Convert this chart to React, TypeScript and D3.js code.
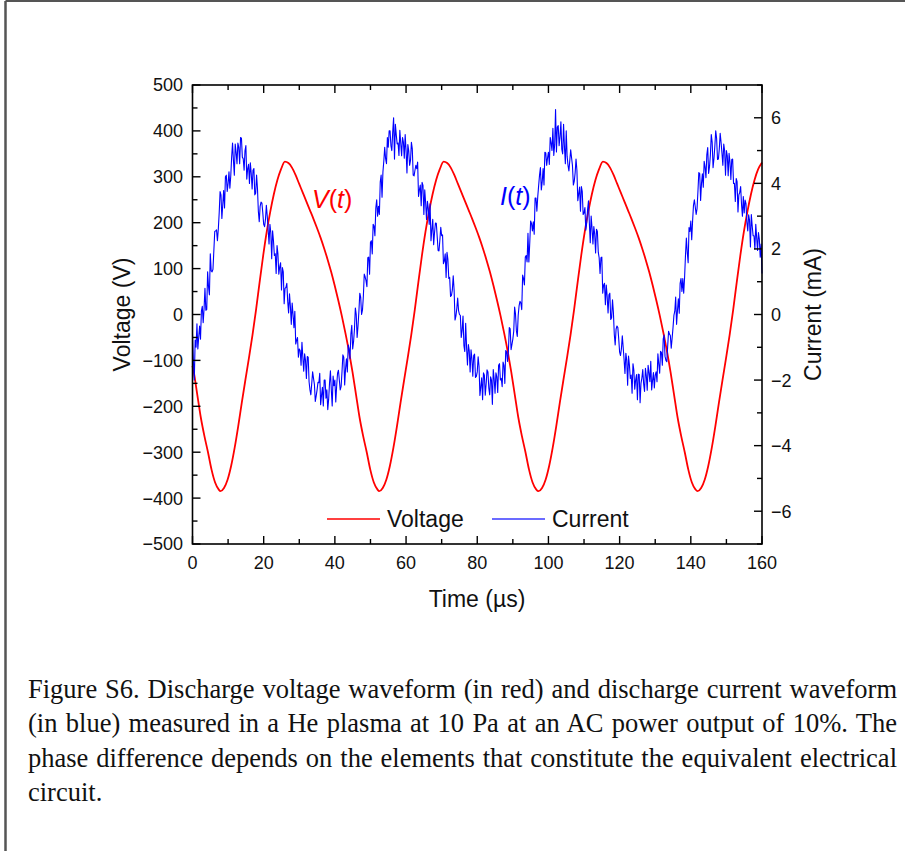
import React, { useLayoutEffect, useRef, useState } from 'react';
import * as d3 from 'd3';

// Voltage waveform V(t): [time (µs), voltage (V)]
const voltagePoints: [number, number][] = [
  [0, -112], [0.35, -125], [1.35, -175], [2.35, -225], [3.35, -265], [4.35, -300], [5.35, -338], [6.35, -366], [7.35, -381], [7.85, -385],
  [8.85, -378], [9.85, -360], [10.85, -330], [11.85, -290], [12.85, -243], [13.85, -192], [14.85, -143], [15.85, -95], [16.85, -45], [17.85, 10],
  [18.85, 70], [19.85, 128], [20.85, 180], [21.85, 224], [22.85, 262], [23.85, 293], [24.85, 316], [25.95, 333],
  [26.95, 330], [27.95, 320], [28.95, 304], [29.95, 285], [30.95, 266], [31.95, 247], [32.95, 228], [33.95, 209], [34.95, 189], [35.95, 168],
  [36.95, 145], [37.95, 120], [38.95, 93], [39.95, 63], [40.95, 31], [41.95, -3], [42.95, -40], [43.95, -80], [44.95, -125], [45.95, -175],
  [46.95, -225], [47.95, -265], [48.95, -300], [49.95, -338], [50.95, -366], [51.95, -381], [52.45, -385],
  [53.45, -378], [54.45, -360], [55.45, -330], [56.45, -290], [57.45, -243], [58.45, -192], [59.45, -143], [60.45, -95], [61.45, -45], [62.45, 10],
  [63.45, 70], [64.45, 128], [65.45, 180], [66.45, 224], [67.45, 262], [68.45, 293], [69.45, 316], [70.55, 333],
  [71.55, 330], [72.55, 320], [73.55, 304], [74.55, 285], [75.55, 266], [76.55, 247], [77.55, 228], [78.55, 209], [79.55, 189], [80.55, 168],
  [81.55, 145], [82.55, 120], [83.55, 93], [84.55, 63], [85.55, 31], [86.55, -3], [87.55, -40], [88.55, -80], [89.55, -125], [90.55, -175],
  [91.55, -225], [92.55, -265], [93.55, -300], [94.55, -338], [95.55, -366], [96.55, -381], [97.2, -385],
  [98.2, -378], [99.2, -360], [100.2, -330], [101.2, -290], [102.2, -243], [103.2, -192], [104.2, -143], [105.2, -95], [106.2, -45], [107.2, 10],
  [108.2, 70], [109.2, 128], [110.2, 180], [111.2, 224], [112.2, 262], [113.2, 293], [114.2, 316], [115.3, 333],
  [116.3, 330], [117.3, 320], [118.3, 304], [119.3, 285], [120.3, 266], [121.3, 247], [122.3, 228], [123.3, 209], [124.3, 189], [125.3, 168],
  [126.3, 145], [127.3, 120], [128.3, 93], [129.3, 63], [130.3, 31], [131.3, -3], [132.3, -40], [133.3, -80], [134.3, -125], [135.3, -175],
  [136.3, -225], [137.3, -265], [138.3, -300], [139.3, -338], [140.3, -366], [141.3, -381], [141.9, -385],
  [142.9, -378], [143.9, -360], [144.9, -330], [145.9, -290], [146.9, -243], [147.9, -192], [148.9, -143], [149.9, -95], [150.9, -45], [151.9, 10],
  [152.9, 70], [153.9, 128], [154.9, 180], [155.9, 224], [156.9, 262], [157.9, 293], [158.9, 316], [160, 331],
];

// Current waveform I(t) (mA): samples at t = 0, 0.5, 1.0, ... µs
const currentStep = 0.5;
const currentValues: number[] = [
  -0.6, -2.0, -1.0, -1.05, -0.35, 0.1, -0.25, 0.8, 0.15, 0.85,
  1.85, 1.3, 1.95, 2.55, 2.25, 3.1, 3.65, 3.35, 3.25, 4.25,
  4.0, 3.85, 4.8, 4.7, 5.2, 4.6, 5.1, 5.4, 4.8, 4.4,
  5.15, 4.45, 4.0, 4.3, 4.4, 3.65, 4.25, 3.15, 3.3, 3.4,
  2.75, 2.9, 3.0, 2.15, 2.5, 2.55, 1.8, 1.25, 1.85, 1.45,
  0.75, 1.3, 0.8, 0.95, 0.05, 0.25, 0.35, -0.4, -0.9, -0.7,
  -1.05, -1.55, -1.3, -1.2, -1.95, -1.3, -2.3, -2.1, -1.95, -2.65,
  -2.3, -2.08, -2.75, -2.22, -2.0, -2.55, -2.9, -2.08, -2.3, -1.88,
  -2.0, -2.18, -1.7, -2.3, -1.75, -1.3, -1.65, -1.75, -1.05, -0.6,
  -1.05, -0.45, 0.0, -0.35, 0.65, 0.0, 0.55, 1.15, 0.85, 1.75,
  2.2, 1.85, 2.7, 3.25, 3.0, 3.05, 4.25, 4.35, 5.1, 4.6,
  5.1, 5.6, 5.0, 6.0, 5.8, 5.2, 4.85, 5.23, 5.4, 4.77,
  5.0, 5.18, 4.55, 5.25, 4.25, 4.4, 4.45, 3.6, 3.95, 4.03,
  3.05, 3.4, 3.45, 2.75, 2.25, 2.9, 2.5, 2.78, 1.95, 2.27,
  2.4, 1.55, 1.85, 1.9, 1.1, 0.55, 0.75, 0.75, -0.05, 0.5,
  0.0, -0.7, -0.05, -1.13, -1.0, -0.92, -1.75, -1.35, -1.25, -1.92,
  -1.75, -1.58, -2.2, -2.6, -1.85, -2.12, -1.75, -2.45, -2.0, -1.68,
  -2.4, -1.9, -1.55, -2.0, -2.2, -1.55, -1.1, -1.43, -0.4, -1.07,
  -0.75, 0.23, -0.5, -0.03, 0.4, 0.15, 1.1, 1.75, 1.6, 1.6,
  2.85, 2.55, 2.45, 3.55, 3.6, 4.25, 3.8, 4.45, 4.95, 4.55,
  4.95, 5.4, 5.0, 4.85, 6.25, 5.72, 5.15, 5.88, 4.9, 5.1,
  5.6, 4.55, 4.7, 4.78, 3.95, 4.32, 4.4, 3.68, 3.15, 3.75,
  3.1, 2.57, 3.2, 2.78, 3.0, 2.15, 2.45, 2.6, 1.9, 1.25,
  1.75, 0.9, 0.3, 0.55, 0.6, -0.15, 0.45, -0.6, -0.45, -0.4,
  -1.15, -1.05, -1.0, -1.8, -1.4, -1.27, -1.95, -2.4, -1.7, -2.0,
  -2.6, -1.83, -2.1, -1.68, -2.35, -1.87, -1.55, -2.05, -2.3, -1.77,
  -1.85, -2.05, -1.5, -1.12, -1.55, -0.63, -1.4, -0.97, -0.6, -1.03,
  -0.4, 0.1, -0.3, 0.48, 0.95, 0.7, 0.65, 1.8, 1.9, 2.65,
  2.85, 2.85, 3.5, 3.05, 3.75, 4.3, 4.0, 3.88, 4.5, 4.88,
  4.3, 4.87, 5.25, 4.75, 5.6, 4.73, 5.05, 5.25, 4.55, 5.0,
  5.0, 4.23, 4.65, 4.73, 4.0, 3.45, 4.05, 3.65, 3.9, 3.0,
  3.1, 3.38, 2.55, 2.87, 3.05, 2.4, 2.0, 2.35, 2.5, 1.75,
  1.25,
];

// Current waveform I(t) (mA): samples at t = 0.25, 0.75, 1.25, ... µs
const currentMidOffset = 0.25;
const currentMidValues: number[] = [
  -1.43, -0.78, -0.28, -0.68, -0.75, 0.25, 0.18, 0.13, 1.3, 0.6,
  1.33, 1.38, 2.53, 2.58, 2.6, 3.75, 2.93, 3.78, 4.2, 3.75,
  4.35, 4.23, 5.23, 4.25, 4.95, 5.23, 4.6, 5.38, 4.75, 5.0,
  4.13, 4.58, 4.63, 3.83, 4.45, 3.7, 3.85, 2.83, 3.43, 3.1,
  2.68, 3.33, 2.6, 2.75, 1.7, 2.25, 1.85, 2.1, 1.23, 1.58,
  1.43, 0.33, 0.83, 0.4, 0.63, -0.3, 0.0, 0.1, -0.78, -1.3,
  -1.1, -0.85, -1.73, -1.4, -1.28, -2.05, -2.45, -1.75, -2.13, -2.48,
  -2.07, -1.79, -2.46, -2.79, -2.0, -2.3, -2.59, -1.72, -2.79, -2.17,
  -2.67, -1.79, -2.0, -2.2, -1.23, -2.15, -1.35, -0.93, -1.35, -0.33,
  -0.83, 0.2, -0.7, 0.1, 0.53, 0.13, 1.23, 1.03, 1.73, 1.23,
  2.25, 2.75, 2.4, 3.5, 3.3, 4.05, 3.58, 4.68, 4.75, 5.4,
  5.6, 5.15, 5.57, 4.74, 5.48, 5.23, 5.62, 4.84, 5.26, 5.49,
  4.32, 4.99, 4.7, 5.05, 4.23, 4.55, 4.65, 3.8, 3.32, 3.94,
  3.8, 2.9, 3.23, 3.38, 2.58, 2.13, 2.79, 2.37, 1.94, 2.66,
  2.43, 1.63, 1.13, 1.68, 1.13, 0.58, 1.18, -0.17, 0.18, 0.12,
  -0.03, -0.48, -0.94, -0.27, -1.54, -1.11, -1.08, -1.88, -1.21, -1.89,
  -1.29, -2.47, -1.93, -1.78, -2.46, -1.69, -2.25, -1.9, -2.74, -1.97,
  -1.78, -2.38, -1.5, -1.95, -1.45, -2.1, -1.14, -1.12, -0.44, -0.91,
  -0.51, 0.01, -0.67, 0.26, 0.35, 1.2, 0.9, 1.8, 2.48, 2.18,
  2.78, 2.83, 3.55, 3.15, 3.93, 4.48, 4.05, 3.95, 4.93, 4.78,
  4.58, 5.23, 5.68, 5.18, 4.96, 5.76, 5.42, 5.04, 5.8, 4.6,
  4.83, 4.38, 5.02, 4.54, 4.06, 4.74, 3.47, 3.89, 3.9, 3.05,
  3.26, 2.79, 3.47, 2.19, 2.63, 2.68, 1.88, 2.53, 1.73, 1.73,
  0.65, 0.95, 0.9, 0.05, 0.65, -0.1, 0.07, -0.93, -0.35, -0.75,
  -1.25, -0.65, -1.38, -1.18, -2.16, -1.54, -1.85, -1.5, -2.28, -1.83,
  -1.82, -2.69, -1.94, -2.12, -1.64, -2.31, -1.78, -1.43, -2.01, -2.24,
  -1.75, -1.2, -1.79, -1.16, -0.74, -1.27, -1.44, -0.51, -0.64, -0.72,
  -0.03, 0.53, 0.12, 0.04, 1.1, 1.1, 1.13, 2.33, 1.58, 2.53,
  2.28, 3.33, 3.28, 3.23, 4.33, 3.48, 4.29, 4.67, 4.17, 5.09,
  4.51, 5.49, 4.48, 5.13, 5.37, 4.74, 5.53, 4.93, 5.2, 4.25,
  4.84, 4.92, 4.12, 4.74, 4.0, 4.15, 3.13, 3.73, 3.35, 3.6,
  3.49, 2.82, 3.04, 2.06, 2.7, 2.4, 2.75, 1.95, 2.3, 2.15,
];

const timeTicks = [0, 20, 40, 60, 80, 100, 120, 140, 160];
const timeMinorTicks = [10, 30, 50, 70, 90, 110, 130, 150];
const voltageTicks = [-500, -400, -300, -200, -100, 0, 100, 200, 300, 400, 500];
const voltageMinorTicks = [-450, -350, -250, -150, -50, 50, 150, 250, 350, 450];
const currentTicks = [-6, -4, -2, 0, 2, 4, 6];
const currentMinorTicks = [-7, -5, -3, -1, 1, 3, 5, 7];

const captionLines = [
  'Figure S6. Discharge voltage waveform (in red) and discharge current waveform',
  '(in blue) measured in a He plasma at 10 Pa at an AC power output of 10%. The',
  'phase difference depends on the elements that constitute the equivalent electrical',
  'circuit.',
];

const SANS = '"Liberation Sans", Arial, Helvetica, sans-serif';
const SERIF = '"Liberation Serif", "Times New Roman", Times, serif';

export default function App() {
  const W = 905;
  const H = 851;
  const x0 = 192.5, x1 = 762, yTop = 85, yBot = 544;
  const x = d3.scaleLinear().domain([0, 160]).range([x0, x1]);
  const yV = d3.scaleLinear().domain([-500, 500]).range([yBot, yTop]);
  const yI = d3.scaleLinear().domain([-7, 7]).range([yBot, yTop]);
  const fmt = d3.format('d');

  const currentPoints: [number, number][] = currentValues
    .map((v, i) => [i * currentStep, v] as [number, number])
    .concat(currentMidValues.map((v, i) => [i * currentStep + currentMidOffset, v] as [number, number]))
    .sort((a, b) => a[0] - b[0]);

  const vLine = d3.line<[number, number]>()
    .x((d) => x(d[0]))
    .y((d) => yV(d[1]))
    .curve(d3.curveMonotoneX);
  const iLine = d3.line<[number, number]>()
    .x((d) => x(d[0]))
    .y((d) => yI(d[1]));

  const captionRefs = useRef<(SVGTextElement | null)[]>([]);
  const [wordSpacing, setWordSpacing] = useState<number[]>([0, 0, 0, 0]);
  const captionX = 28;
  const captionWidth = 869;
  useLayoutEffect(() => {
    const ws = captionLines.map((line, i) => {
      const el = captionRefs.current[i];
      if (!el || i === captionLines.length - 1) return 0;
      const w = el.getComputedTextLength();
      const gaps = line.split(' ').length - 1;
      return gaps > 0 ? (captionWidth - w) / gaps : 0;
    });
    setWordSpacing(ws);
  }, []);

  const majorLen = 8;
  const minorLen = 5;

  return (
    <svg
      width={W}
      height={H}
      style={{ position: 'absolute', left: 0, top: 0, background: '#fff' }}
    >
      <rect x={0} y={0} width={W} height={H} fill="#fff" />
      {/* outer frame */}
      <line x1={5.5} y1={1} x2={W} y2={1} stroke="#555" strokeWidth={2} />
      <line x1={5.5} y1={1} x2={5.5} y2={H} stroke="#555" strokeWidth={2.5} />

      {/* data */}
      <path d={vLine(voltagePoints) || ''} fill="none" stroke="#ff0000" strokeWidth={1.8} />
      <path d={iLine(currentPoints) || ''} fill="none" stroke="#0000ff" strokeWidth={1.1} strokeLinejoin="round" />

      {/* frame */}
      <rect x={x0} y={yTop} width={x1 - x0} height={yBot - yTop} fill="none" stroke="#000" strokeWidth={1.6} />

      {/* bottom & top ticks */}
      {timeTicks.map((t) => (
        <g key={'tx' + t}>
          <line x1={x(t)} x2={x(t)} y1={yBot} y2={yBot - majorLen} stroke="#000" strokeWidth={1.4} />
          <line x1={x(t)} x2={x(t)} y1={yTop} y2={yTop + majorLen} stroke="#000" strokeWidth={1.4} />
          <text x={x(t)} y={569} textAnchor="middle" fontFamily={SANS} fontSize={18} fill="#111">
            {fmt(t)}
          </text>
        </g>
      ))}
      {timeMinorTicks.map((t) => (
        <g key={'tm' + t}>
          <line x1={x(t)} x2={x(t)} y1={yBot} y2={yBot - minorLen} stroke="#000" strokeWidth={1.4} />
          <line x1={x(t)} x2={x(t)} y1={yTop} y2={yTop + minorLen} stroke="#000" strokeWidth={1.4} />
        </g>
      ))}

      {/* left voltage axis */}
      {voltageTicks.map((v) => (
        <g key={'v' + v}>
          <line x1={x0} x2={x0 + majorLen} y1={yV(v)} y2={yV(v)} stroke="#000" strokeWidth={1.4} />
          <text x={183} y={yV(v)} dy="0.36em" textAnchor="end" fontFamily={SANS} fontSize={18} fill="#111">
            {fmt(v)}
          </text>
        </g>
      ))}
      {voltageMinorTicks.map((v) => (
        <line key={'vm' + v} x1={x0} x2={x0 + minorLen} y1={yV(v)} y2={yV(v)} stroke="#000" strokeWidth={1.4} />
      ))}

      {/* right current axis */}
      {currentTicks.map((c) => (
        <g key={'c' + c}>
          <line x1={x1} x2={x1 - majorLen} y1={yI(c)} y2={yI(c)} stroke="#000" strokeWidth={1.4} />
          <text x={771} y={yI(c)} dy="0.36em" textAnchor="start" fontFamily={SANS} fontSize={18} fill="#111">
            {fmt(c)}
          </text>
        </g>
      ))}
      {currentMinorTicks.map((c) => (
        <line key={'cm' + c} x1={x1} x2={x1 - minorLen} y1={yI(c)} y2={yI(c)} stroke="#000" strokeWidth={1.4} />
      ))}

      {/* axis titles */}
      <text x={477} y={607} textAnchor="middle" fontFamily={SANS} fontSize={23} fill="#111">
        Time (µs)
      </text>
      <text
        transform={`translate(130, ${(yTop + yBot) / 2}) rotate(-90)`}
        textAnchor="middle"
        fontFamily={SANS}
        fontSize={23}
        fill="#111"
      >
        Voltage (V)
      </text>
      <text
        transform={`translate(821, ${(yTop + yBot) / 2}) rotate(-90)`}
        textAnchor="middle"
        fontFamily={SANS}
        fontSize={23}
        fill="#111"
      >
        Current (mA)
      </text>

      {/* annotations */}
      <text x={312} y={208} fontFamily={SANS} fontSize={25} fill="#ff0000">
        <tspan fontStyle="italic">V</tspan>(<tspan fontStyle="italic">t</tspan>)
      </text>
      <text x={500} y={205} fontFamily={SANS} fontSize={25} fill="#0000ff">
        <tspan fontStyle="italic">I</tspan>(<tspan fontStyle="italic">t</tspan>)
      </text>

      {/* legend */}
      <line x1={327} x2={380} y1={519} y2={519} stroke="#ff0000" strokeWidth={1.6} />
      <text x={387} y={527} fontFamily={SANS} fontSize={23} fill="#111">Voltage</text>
      <line x1={492} x2={545} y1={519} y2={519} stroke="#3a3aff" strokeWidth={1.4} />
      <text x={552} y={527} fontFamily={SANS} fontSize={23} fill="#111">Current</text>

      {/* caption */}
      {captionLines.map((line, i) => (
        <text
          key={'cap' + i}
          ref={(el) => { captionRefs.current[i] = el; }}
          x={captionX}
          y={698 + i * 34.3}
          fontFamily={SERIF}
          fontSize={26.5}
          fill="#111"
          style={{ wordSpacing: `${wordSpacing[i]}px` }}
        >
          {line}
        </text>
      ))}
    </svg>
  );
}
